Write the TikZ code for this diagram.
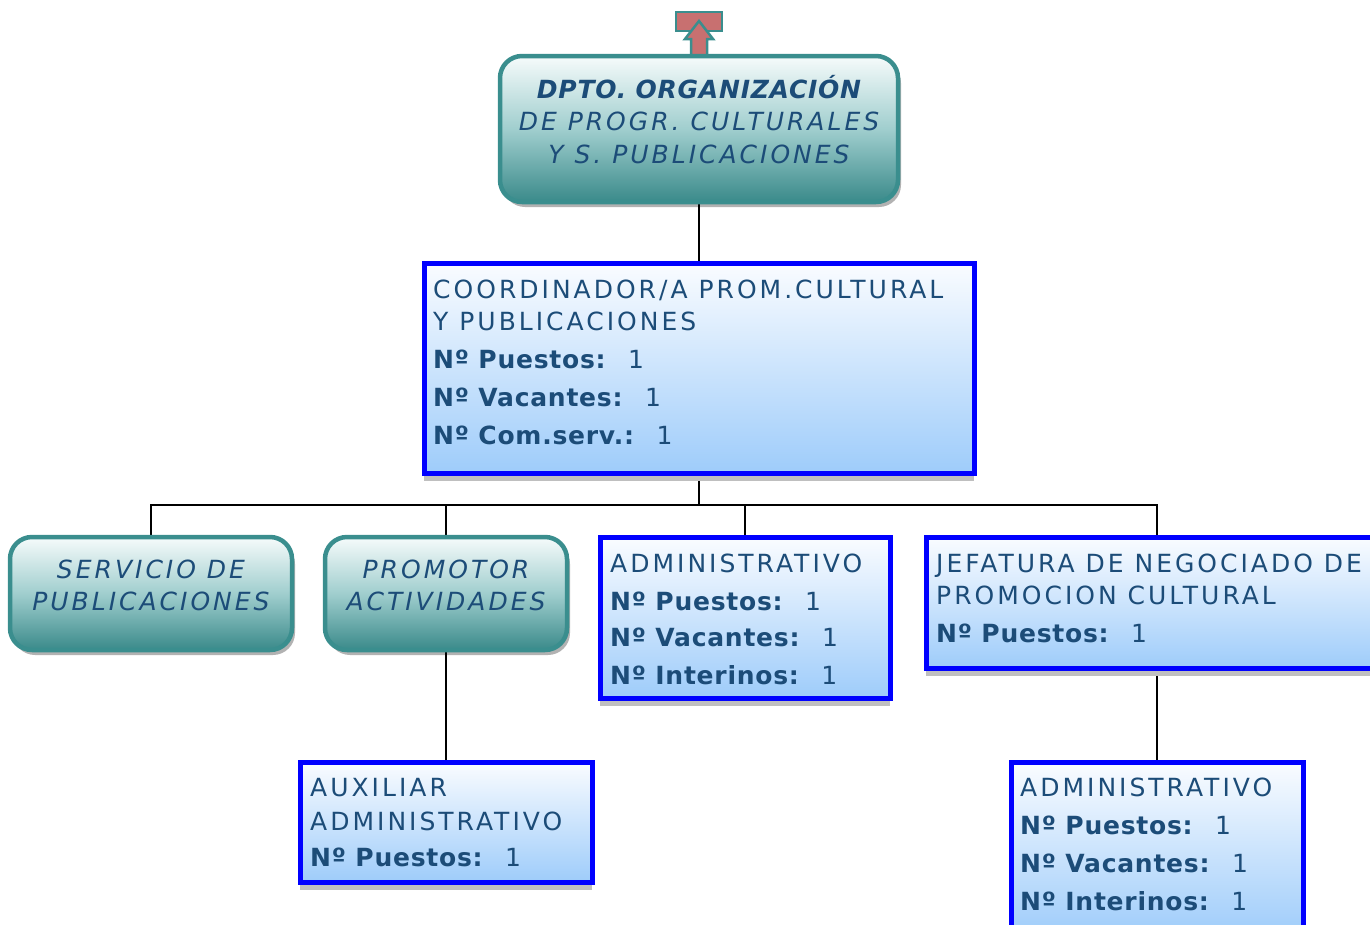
\documentclass[tikz,border=0pt]{standalone}
\usepackage{fontspec}
\setmainfont{DejaVu Sans}
\newfontfamily\regsp[LetterSpace=12]{DejaVu Sans}
\newfontfamily\boldsp[LetterSpace=3]{DejaVu Sans}
\usetikzlibrary{shadows,backgrounds}
\definecolor{textblue}{RGB}{28,76,120}
\definecolor{tealb}{RGB}{58,142,142}
\definecolor{tealtop}{RGB}{246,251,251}
\definecolor{tealmid}{RGB}{160,206,206}
\definecolor{tealbot}{RGB}{58,138,138}
\definecolor{bluetop}{RGB}{250,252,255}
\definecolor{bluebot}{RGB}{158,204,250}
\definecolor{arrowred}{RGB}{200,112,112}
\newcommand{\entry}[2]{{\boldsp\bfseries #1}\hspace{0.9em}#2}
\newcommand{\lft}[1]{\begin{tabular}[t]{@{}l@{}}#1\end{tabular}}
\newcommand{\ctr}[1]{\begin{tabular}[t]{@{}c@{}}#1\end{tabular}}
\tikzset{
  tealbox/.style={rounded corners=22pt, draw=tealb, line width=4.5pt,
    top color=tealtop, bottom color=tealbot, middle color=tealmid,
    drop shadow={shadow xshift=3pt, shadow yshift=-5pt, opacity=0.3, fill=black},
    anchor=north west, inner sep=0pt, outer sep=0pt},
  bluebox/.style={draw=blue, line width=5pt, top color=bluetop, bottom color=bluebot,
    general shadow={fill=black!25, shadow yshift=-8pt},
    anchor=north west, inner sep=0pt, outer sep=0pt},
  ttxt/.style={inner sep=0pt, anchor=base, text=textblue,
    font=\fontsize{25}{32}\selectfont\regsp\itshape},
  btxt/.style={inner sep=0pt, anchor=base west, text=textblue,
    font=\fontsize{25}{32}\selectfont\regsp},
  conn/.style={draw=black, line width=2.5pt},
}
\begin{document}
\begin{tikzpicture}[x=1pt,y=1pt]
\useasboundingbox (0,0) rectangle (1370,-924);
\clip (0,0) rectangle (1370,-924);

% top arrow icon
\path[draw=tealb, line width=2.5pt, fill=arrowred] (676,-12) rectangle (722,-31);
\path[draw=tealb, line width=2.5pt, fill=arrowred]
  (699,-21) -- (713,-39) -- (707,-39) -- (707,-56) -- (691,-56) -- (691,-39) -- (685,-39) -- cycle;

% boxes
\node[tealbox, minimum width=398, minimum height=146] (dpto) at (500,-56) {};
\node[ttxt] (dptot1) at (699,-98) {\boldsp\bfseries\itshape DPTO. ORGANIZACIÓN};
\node[ttxt] (dptot2) at (699,-130) {\ctr{DE PROGR. CULTURALES\\[1pt]Y S. PUBLICACIONES}};

\node[bluebox, minimum width=550, minimum height=210] (coord) at (424,-263) {};
\node[btxt] (coordt) at (433,-298) {\lft{COORDINADOR/A PROM.CULTURAL\\Y PUBLICACIONES\\[6pt]\entry{Nº Puestos:}{1}\\[6pt]\entry{Nº Vacantes:}{1}\\[6pt]\entry{Nº Com.serv.:}{1}}};

\node[tealbox, minimum width=282, minimum height=113] (serv) at (10,-537) {};
\node[ttxt] (servt) at (151,-578) {\ctr{SERVICIO DE\\PUBLICACIONES}};

\node[tealbox, minimum width=242, minimum height=113] (prom) at (325,-537) {};
\node[ttxt] (promt) at (446,-578) {\ctr{PROMOTOR\\ACTIVIDADES}};

\node[bluebox, minimum width=290, minimum height=161] (adm) at (600,-537) {};
\node[btxt] (admt) at (610,-572) {\lft{ADMINISTRATIVO\\[6pt]\entry{Nº Puestos:}{1}\\[4pt]\entry{Nº Vacantes:}{1}\\[6pt]\entry{Nº Interinos:}{1}}};

\node[bluebox, minimum width=462, minimum height=131] (jef) at (926,-537) {};
\node[btxt] (jeft) at (936,-572) {\lft{JEFATURA DE NEGOCIADO DE\\PROMOCION CULTURAL\\[6pt]\entry{Nº Puestos:}{1}}};

\node[bluebox, minimum width=292, minimum height=120] (aux) at (300,-762) {};
\node[btxt] (auxt) at (310,-796) {\lft{AUXILIAR\\[2pt]ADMINISTRATIVO\\[4pt]\entry{Nº Puestos:}{1}}};

\node[bluebox, minimum width=292, minimum height=175] (adm2) at (1011,-762) {};
\node[btxt] (adm2t) at (1020,-796) {\lft{ADMINISTRATIVO\\[6pt]\entry{Nº Puestos:}{1}\\[6pt]\entry{Nº Vacantes:}{1}\\[6pt]\entry{Nº Interinos:}{1}}};

% connectors
\coordinate (bus) at (699,-505);
\begin{pgfonlayer}{background}
\draw[conn] (dpto.south) -- (coord.north);
\draw[conn] (coord.south) -- (bus);
\draw[conn] (bus) -| (serv.north);
\draw[conn] (bus) -| (prom.north);
\draw[conn] (bus) -| (adm.north);
\draw[conn] (bus) -| (jef.north);
\draw[conn] (prom.south) -- (aux.north);
\draw[conn] (jef.south) -- (adm2.north);
\end{pgfonlayer}
\end{tikzpicture}
\end{document}
